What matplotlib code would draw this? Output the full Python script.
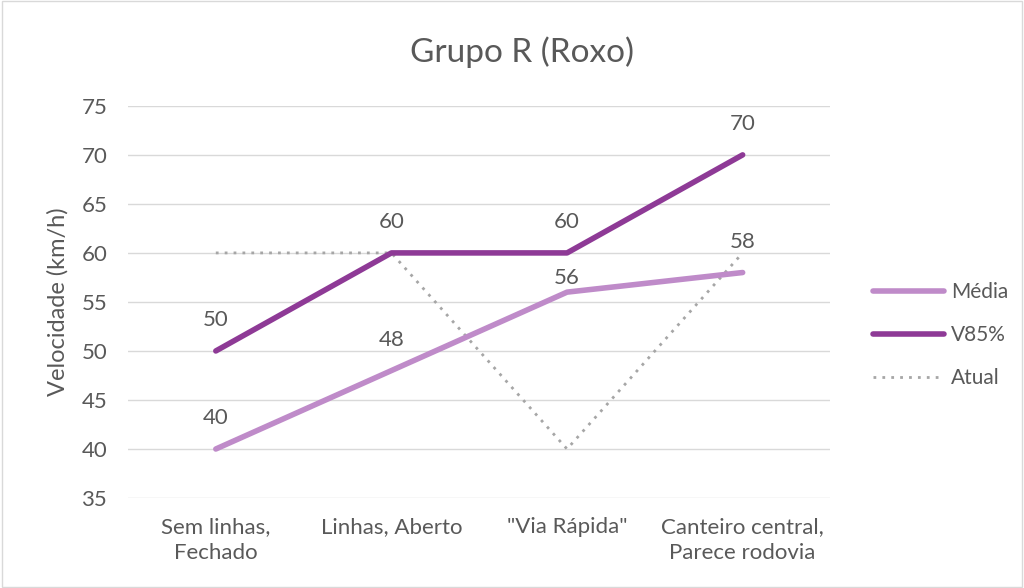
import matplotlib.pyplot as plt
from matplotlib.patches import Rectangle

plt.rcParams['font.family'] = ['Lato', 'DejaVu Sans']

categories = ['Sem linhas,\nFechado', 'Linhas, Aberto', '"Via Rápida"', 'Canteiro central,\nParece rodovia']
media = [40, 48, 56, 58]
v85 = [50, 60, 60, 70]
atual = [60, 60, 40, 60]

txt = '#595959'
c_media = '#BF8BC9'
c_v85 = '#8E3A96'
c_atual = '#A6A6A6'

fig = plt.figure(figsize=(10.24, 5.88), dpi=100)
ax = fig.add_axes([0.125, 0.153, 0.686, 0.667])
x = list(range(len(categories)))

l1, = ax.plot(x, media, color=c_media, lw=4, solid_capstyle='round', label='Média', zorder=3)
l2, = ax.plot(x, v85, color=c_v85, lw=4, solid_capstyle='round', label='V85%', zorder=4)
l3, = ax.plot(x, atual, color=c_atual, lw=2, ls=(0, (1, 2.2)), label='Atual', zorder=2)

# data labels (the 56 one sits closer to its point in the original)
media_off = [22, 22, 10, 22]
for xi, v, off in zip(x, media, media_off):
    ax.annotate(str(v), (xi, v), xytext=(0, off), textcoords='offset points',
                ha='center', va='center', fontsize=16, color=txt)
for xi, v in zip(x, v85):
    ax.annotate(str(v), (xi, v), xytext=(0, 22), textcoords='offset points',
                ha='center', va='center', fontsize=16, color=txt)

ax.set_xlim(-0.5, 3.5)
ax.set_ylim(35, 75)
ax.set_yticks(range(35, 80, 5))
ax.set_xticks(x)
ax.set_xticklabels(categories, linespacing=1.35)
ax.tick_params(axis='both', length=0, labelsize=16, labelcolor=txt)
ax.tick_params(axis='x', pad=14)
ax.tick_params(axis='y', pad=15)
ax.grid(axis='y', color='#D9D9D9', lw=1)
ax.set_axisbelow(True)
for s in ax.spines.values():
    s.set_visible(False)

ax.set_ylabel('Velocidade (km/h)', fontsize=17, color=txt)
ax.yaxis.set_label_coords(-0.085, 0.5)
fig.text(0.51, 0.912, 'Grupo R (Roxo)', ha='center', va='center', fontsize=24, color=txt)

leg = fig.legend(handles=[l1, l2, l3], loc='center left', bbox_to_anchor=(0.834, 0.43),
                 frameon=False, fontsize=15, labelcolor=txt, handlelength=3.4,
                 labelspacing=1.1, handletextpad=0.35)

fig.patches.append(Rectangle((0.002, 0.002), 0.996, 0.996, transform=fig.transFigure,
                             fill=False, edgecolor='#D9D9D9', lw=1))

fig.savefig('out.png', dpi=100, facecolor='white')
